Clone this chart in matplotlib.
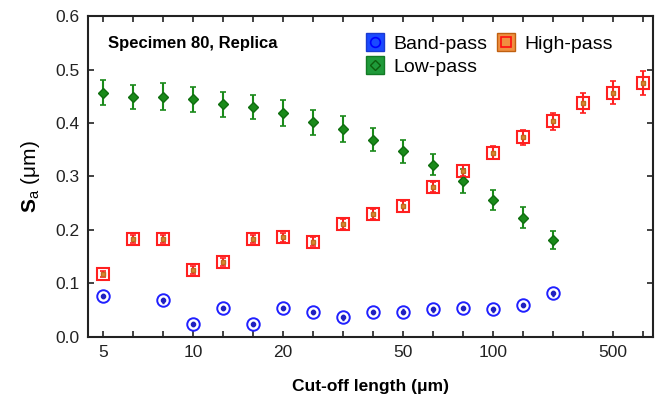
import matplotlib
matplotlib.use("Agg")
import matplotlib.pyplot as plt
from matplotlib.lines import Line2D
import numpy as np

plt.rcParams['font.family'] = ['Liberation Sans', 'DejaVu Sans']
plt.rcParams['mathtext.fontset'] = 'custom'
plt.rcParams['mathtext.rm'] = 'Liberation Sans'
plt.rcParams['mathtext.bf'] = 'Liberation Sans:bold'

# Positions of cut-off lengths (evenly spaced categories) and labelled ones
n_positions = 19
tick_label_pos = [0, 3, 6, 10, 13, 17]
tick_labels = ['5', '10', '20', '50', '100', '500']

band_idx = [0, 2, 3, 4, 5, 6, 7, 8, 9, 10, 11, 12, 13, 14, 15]
band_val = [0.076, 0.068, 0.024, 0.054, 0.024, 0.054, 0.046, 0.036, 0.046,
            0.047, 0.051, 0.054, 0.051, 0.059, 0.081]
band_err = [0.004] * len(band_idx)

high_idx = list(range(19))
high_val = [0.117, 0.183, 0.183, 0.125, 0.140, 0.183, 0.186, 0.178, 0.211, 0.230,
            0.244, 0.280, 0.311, 0.344, 0.373, 0.403, 0.438, 0.457, 0.475]
high_err = [0.006, 0.007, 0.007, 0.007, 0.007, 0.008, 0.008, 0.008, 0.009, 0.009,
            0.010, 0.010, 0.011, 0.012, 0.014, 0.016, 0.019, 0.021, 0.022]

low_idx = list(range(16))
low_val = [0.457, 0.449, 0.449, 0.444, 0.435, 0.430, 0.419, 0.401, 0.389, 0.369,
           0.347, 0.322, 0.291, 0.256, 0.223, 0.181]
low_err = [0.023, 0.023, 0.025, 0.024, 0.023, 0.023, 0.024, 0.024, 0.024, 0.022,
           0.021, 0.020, 0.022, 0.019, 0.020, 0.017]

fig = plt.figure(figsize=(6.62, 4.03), dpi=100)
ax = fig.add_axes([0.1334, 0.1645, 0.8535, 0.7955])

# Low-pass
ax.errorbar(low_idx, low_val, yerr=low_err, fmt='D', color='#1a8a1a', ms=5.5,
            mfc='#1a8a1a', mec='#0f6e0f', capsize=2, elinewidth=1.5, capthick=1.2, zorder=3)
# High-pass
ax.plot(high_idx, high_val, 's', ms=8.5, mfc='none', mec='#ff2020', mew=1.5, zorder=3)
ax.errorbar(high_idx, high_val, yerr=high_err, fmt='s', color='#ff2020', ms=3,
            mfc='#d98a30', mec='#c06a20', capsize=2, elinewidth=1.5, capthick=1.2, zorder=4)
# Band-pass
ax.plot(band_idx, band_val, 'o', ms=9, mfc='none', mec='#2020ff', mew=1.4, zorder=3)
ax.errorbar(band_idx, band_val, yerr=band_err, fmt='o', color='#2020c0', ms=3,
            mfc='#2020c0', mec='#2020c0', capsize=1, elinewidth=1, zorder=4)

ax.set_xlim(-0.49, 18.34)
ax.set_ylim(0, 0.6)
ax.set_xticks(range(n_positions))
ax.set_xticklabels([tick_labels[tick_label_pos.index(i)] if i in tick_label_pos else ''
                    for i in range(n_positions)])
ax.set_yticks(np.arange(0, 0.61, 0.1))
ax.set_yticklabels(['%.1f' % v for v in np.arange(0, 0.61, 0.1)])
ax.tick_params(direction='in', top=True, right=True, length=4, width=1.2,
               labelsize=12.5, pad=6, colors='#222222')
for s in ax.spines.values():
    s.set_linewidth(1.5)
    s.set_color('#222222')

ax.set_xlabel('Cut-off length (μm)', fontsize=12.5, fontweight='bold', labelpad=14)
ax.set_ylabel(r'$\mathbf{S}_\mathrm{a}$ (μm)', fontsize=15, labelpad=10)

ax.text(0.035, 0.915, 'Specimen 80, Replica', transform=ax.transAxes,
        fontsize=12, fontweight='bold', va='center', ha='left')

h_band = (Line2D([], [], marker='s', ls='none', ms=13, mfc='#1a4aff', mec='#1a3ad0'),
          Line2D([], [], marker='o', ls='none', ms=7, mfc='none', mec='#0000ff', mew=1.2))
h_low = (Line2D([], [], marker='s', ls='none', ms=13, mfc='#1f9a3a', mec='#137a25'),
         Line2D([], [], marker='D', ls='none', ms=5, mfc='none', mec='#0d5e0d', mew=1.0))
h_high = (Line2D([], [], marker='s', ls='none', ms=13, mfc='#f09040', mec='#c06010'),
          Line2D([], [], marker='s', ls='none', ms=7, mfc='none', mec='#ff1010', mew=1.2))
leg = ax.legend([h_band, h_low, h_high], ['Band-pass', 'Low-pass', 'High-pass'],
                ncol=2, loc='upper left', bbox_to_anchor=(0.46, 0.995), frameon=False,
                fontsize=14, handlelength=1.0, handletextpad=0.4, columnspacing=0.5,
                labelspacing=0.3)

fig.savefig('out.png', dpi=100)
